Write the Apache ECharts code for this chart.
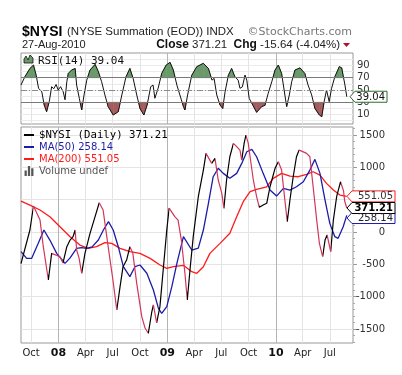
<!DOCTYPE html>
<html><head><meta charset="utf-8">
<script src="https://cdn.jsdelivr.net/npm/echarts@6/dist/echarts.min.js"></script>
<style>html,body{margin:0;padding:0;background:#fff}#c{width:402px;height:375px}</style>
</head><body><div id="c"></div><script>
// ---- data ----
const priceDates = ['2007-08-28','2007-09-27','2007-10-09','2007-10-31','2007-11-11','2007-11-28','2007-12-09','2007-12-20','2008-01-06','2008-01-16','2008-01-29','2008-02-09','2008-02-19','2008-02-26','2008-03-02','2008-03-10','2008-03-19','2008-03-30','2008-04-16','2008-05-03','2008-05-17','2008-05-30','2008-06-16','2008-07-02','2008-07-15','2008-07-26','2008-08-05','2008-08-17','2008-08-28','2008-09-07','2008-09-20','2008-10-07','2008-10-18','2008-10-29','2008-11-09','2008-11-15','2008-11-26','2008-12-07','2008-12-17','2008-12-30','2009-01-07','2009-01-26','2009-02-06','2009-02-17','2009-03-01','2009-03-09','2009-03-18','2009-03-29','2009-04-15','2009-05-02','2009-05-11','2009-05-30','2009-06-10','2009-06-21','2009-07-03','2009-07-10','2009-07-19','2009-07-30','2009-08-11','2009-08-22','2009-09-02','2009-09-08','2009-09-16','2009-09-22','2009-09-30','2009-10-06','2009-10-17','2009-10-28','2009-11-06','2009-11-19','2009-12-01','2009-12-12','2009-12-29','2010-01-09','2010-01-20','2010-01-31','2010-02-08','2010-02-17','2010-02-28','2010-03-11','2010-03-20','2010-04-03','2010-04-14','2010-04-25','2010-05-06','2010-05-18','2010-05-27','2010-06-07','2010-06-15','2010-06-22','2010-07-04','2010-07-13','2010-07-24','2010-08-06','2010-08-16','2010-08-20','2010-08-26','2010-08-27'];
const priceValues = [-490,31,402,185,-227,-742,-330,-350,-383,-480,-227,-124,-72,31,-278,-400,-638,-330,-20,237,453,340,-227,-742,-1206,-845,-536,-433,-227,-330,-793,-1309,-1484,-1566,-1252,-1128,-1406,-1154,-638,31,370,237,185,-124,-638,-1051,-587,-72,546,958,1216,1061,1139,804,598,366,804,1164,1371,1320,1267,1113,1371,1499,1371,1164,804,546,382,417,444,700,985,1087,958,495,159,495,855,1164,1267,1240,1216,1164,700,185,-175,-382,-124,-46,-304,185,546,777,640,480,386.85,371.21];

const ma50Dates = ['2007-08-28','2007-09-16','2007-10-03','2007-10-25','2007-11-13','2007-12-03','2007-12-26','2008-01-23','2008-02-09','2008-03-02','2008-03-19','2008-04-05','2008-04-23','2008-05-14','2008-05-31','2008-06-17','2008-07-03','2008-07-20','2008-08-06','2008-08-28','2008-09-14','2008-10-01','2008-10-24','2008-11-15','2008-12-02','2008-12-13','2008-12-30','2009-01-16','2009-02-02','2009-02-24','2009-03-24','2009-04-15','2009-05-02','2009-05-19','2009-06-04','2009-06-21','2009-07-08','2009-07-30','2009-08-22','2009-09-08','2009-09-25','2009-10-12','2009-10-28','2009-11-19','2009-12-12','2010-01-03','2010-01-26','2010-02-17','2010-03-11','2010-04-03','2010-04-25','2010-05-12','2010-05-29','2010-06-15','2010-07-01','2010-07-18','2010-07-29','2010-08-15','2010-08-27'];
const ma50Values = [-304,-407,-407,-175,31,-124,-330,-484,-400,-252,-240,-252,-230,-124,31,160,31,-227,-536,-690,-536,-510,-638,-896,-1180,-1257,-1154,-845,-484,-72,-278,-250,31,444,855,985,907,830,907,1061,1241,1278,1164,907,649,556,675,649,700,777,958,1123,907,495,134,-72,-98,82,258.14];

const ma200Dates = ['2007-08-28','2007-09-27','2007-10-31','2007-12-03','2008-01-06','2008-02-09','2008-03-13','2008-04-10','2008-05-08','2008-06-05','2008-06-28','2008-07-26','2008-08-28','2008-10-01','2008-11-04','2008-12-07','2008-12-30','2009-01-21','2009-02-24','2009-03-24','2009-04-10','2009-05-02','2009-05-24','2009-06-27','2009-07-30','2009-08-22','2009-09-13','2009-10-06','2009-10-28','2009-12-01','2009-12-23','2010-01-20','2010-02-17','2010-03-17','2010-04-14','2010-05-06','2010-05-29','2010-06-20','2010-07-13','2010-08-04','2010-08-27'];
const ma200Values = [479,417,340,237,82,-72,-201,-252,-227,-165,-175,-252,-304,-330,-407,-510,-561,-536,-515,-613,-638,-536,-330,-175,-20,237,469,623,660,700,830,907,865,855,892,932,881,752,649,572,551.05];

const rsiDates = ['2007-08-28','2007-09-10','2007-09-27','2007-10-09','2007-10-18','2007-10-26','2007-11-06','2007-11-14','2007-11-22','2007-12-01','2007-12-09','2007-12-16','2007-12-24','2007-12-31','2008-01-08','2008-01-17','2008-01-23','2008-01-29','2008-02-03','2008-02-14','2008-02-26','2008-03-02','2008-03-11','2008-03-19','2008-03-27','2008-04-05','2008-04-16','2008-05-03','2008-05-14','2008-05-25','2008-06-05','2008-06-16','2008-07-03','2008-07-20','2008-08-01','2008-08-15','2008-08-28','2008-09-08','2008-09-20','2008-10-01','2008-10-14','2008-10-25','2008-11-06','2008-11-14','2008-11-20','2008-12-01','2008-12-13','2008-12-28','2009-01-10','2009-01-21','2009-02-02','2009-02-12','2009-02-24','2009-03-01','2009-03-10','2009-03-24','2009-04-10','2009-05-02','2009-05-19','2009-05-31','2009-06-07','2009-06-16','2009-06-27','2009-07-06','2009-07-14','2009-07-25','2009-08-05','2009-08-16','2009-08-27','2009-09-02','2009-09-10','2009-09-19','2009-09-25','2009-10-03','2009-10-15','2009-10-28','2009-11-14','2009-11-25','2009-12-06','2009-12-18','2009-12-29','2010-01-09','2010-01-20','2010-01-31','2010-02-06','2010-02-15','2010-02-23','2010-03-06','2010-03-23','2010-04-08','2010-04-19','2010-05-01','2010-05-12','2010-05-27','2010-06-04','2010-06-12','2010-06-20','2010-06-29','2010-07-07','2010-07-18','2010-08-02','2010-08-10','2010-08-21','2010-08-27'];
const rsiValues = [58,71.6,85,90.6,74,52.8,47,25.6,14.7,31,55.4,52,59,50,55.4,47,34,63.5,77,82.5,85,58,36.5,17.5,42,66,82.5,91.7,80,63.5,42,23,9.3,14.7,42,71.6,85,69,42,20,9.3,25.6,55.4,58,36.5,53,77,90.6,95,82.5,58,42,23,17.5,42,74,88,93.4,85,66,69,42,25.6,20,47,74,85,71.6,66,52.8,55,74,66,36.5,25.6,13.7,23,25,44.6,63.5,82.5,90.6,77,42,23,42,63.5,82.5,86,77,58,42,20,9.3,6.6,31,50,31,52.8,71.6,88,86,58,39.04];

const tickDates = ['2007-10-01','2008-01-01','2008-04-01','2008-07-01','2008-10-01','2009-01-01','2009-04-01','2009-07-01','2009-10-01','2010-01-01','2010-04-01','2010-07-01'];
const priceTicks = [-1500,-1000,-500,0,500,1000,1500];
const priceMinorTicks = [-1700,-1600,-1400,-1300,-1200,-1100,-900,-800,-700,-600,-400,-300,-200,-100,100,200,300,400,600,700,800,900,1100,1200,1300,1400,1600];
const rsiGridTicks = [0,10,20,30,40,50,60,70,80,90,100];
const rsiLabelTicks = [10,30,50,70,90];
const rsiLevels = [70,30];

// ---- helpers ----
function ts(s){const p=s.split('-');return new Date(+p[0],+p[1]-1,+p[2]).getTime();}
function pairs(d,v){return d.map((s,i)=>[ts(s),v[i]]);}
const MONTHS=['Jan','Feb','Mar','Apr','May','Jun','Jul','Aug','Sep','Oct','Nov','Dec'];
const xMin = ts('2007-08-28'), xMax = ts('2010-09-17');
const tickTs = tickDates.map(ts);

const pricePts = pairs(priceDates, priceValues);
const ma50Pts = pairs(ma50Dates, ma50Values);
const ma200Pts = pairs(ma200Dates, ma200Values);
const rsiPts = pairs(rsiDates, rsiValues);

const UP='#000000', DOWN='#d2355a';
const pieces=[];
for(let i=0;i<pricePts.length-1;i++){
  const c = pricePts[i+1][1]>=pricePts[i][1]?UP:DOWN;
  const last = pieces[pieces.length-1];
  if(last && last.color===c){ last.lt = pricePts[i+1][0]; }
  else pieces.push({gte:pricePts[i][0], lt:pricePts[i+1][0], color:c});
}
pieces[pieces.length-1].lt = xMax+1;

const nameP='$NYSI (Daily) 371.21', nameM50='MA(50) 258.14', nameM200='MA(200) 551.05', nameV='Volume undef';
const BLUE='#1c1ca8', RED='#ff1a1a';
const LIGHT='#e4e4e4', DARK='#b4b4b4';
const GREEN_FILL='#6a9a6a', RED_FILL='#a65c5c';
const lineIcon='path://M0,0H10V2H0Z';

function xAxisBase(grid, labels){
  return {type:'value', gridIndex:grid, min:xMin, max:xMax, scale:true,
    axisLine:{show:false}, axisTick:{show:false, customValues:tickTs},
    splitLine:{show:true, lineStyle:{color:[LIGHT,DARK,LIGHT,LIGHT], width:1}},
    axisLabel: labels ? {show:true, customValues:tickTs, margin:5, fontSize:10, color:'#222', fontFamily:'DejaVu Sans',
      formatter:function(v){const d=new Date(v);const m=d.getMonth(); if(m===0) return '{y|'+String(d.getFullYear()).slice(2)+'}'; return MONTHS[m];},
      rich:{y:{fontWeight:'bold', fontSize:11, fontFamily:'DejaVu Sans', color:'#111'}}} : {show:false}
  };
}

// RSI band fill (above 70 / below 30), drawn per segment in data space via the axes
function rsiBands(params, api){
  const i = params.dataIndex;
  if (i >= rsiPts.length-1) return null;
  const t0=rsiPts[i][0], v0=rsiPts[i][1], t1=rsiPts[i+1][0], v1=rsiPts[i+1][1];
  const children=[];
  function band(level, above, color){
    const f0 = above ? v0-level : level-v0, f1 = above ? v1-level : level-v1;
    if (f0<=0 && f1<=0) return;
    let pts;
    if (f0>0 && f1>0) pts=[[t0,level],[t0,v0],[t1,v1],[t1,level]];
    else { const tc = t0 + (t1-t0)*f0/(f0-f1); pts = f0>0 ? [[t0,level],[t0,v0],[tc,level]] : [[tc,level],[t1,v1],[t1,level]]; }
    children.push({type:'polygon', shape:{points:pts.map(p=>api.coord(p))}, style:{fill:color, stroke:color, lineWidth:0.6}});
  }
  band(rsiLevels[0], true, GREEN_FILL);
  band(rsiLevels[1], false, RED_FILL);
  return {type:'group', children:children};
}

const chart = echarts.init(document.getElementById('c'), null, {renderer:'canvas'});
const option = {
  animation:false,
  backgroundColor:'#fff',
  grid:[
    {left:21, top:53, width:332, height:71, show:true, borderColor:'#999', borderWidth:1, backgroundColor:'transparent'},
    {left:21, top:127, width:332, height:216, show:true, borderColor:'#999', borderWidth:1, backgroundColor:'transparent'}
  ],
  xAxis:[xAxisBase(0,false), xAxisBase(1,true)],
  yAxis:[
    {type:'value', gridIndex:0, position:'right', min:-5.3, max:110.2,
     axisLine:{show:false}, axisTick:{show:false, customValues:rsiGridTicks},
     axisLabel:{customValues:rsiLabelTicks, margin:4, fontSize:10, color:'#333', fontFamily:'DejaVu Sans', formatter:v=>String(v)},
     splitLine:{show:true, lineStyle:{color:'#ebebeb'}}},
    {type:'value', gridIndex:1, position:'right', min:-1716, max:1624,
     axisLine:{show:false}, axisTick:{show:true, length:4, customValues:priceTicks, lineStyle:{color:'#999'}},
     axisLabel:{customValues:priceTicks, align:'right', margin:32, fontSize:10, color:'#333', fontFamily:'DejaVu Sans', formatter:v=>String(v)},
     splitLine:{show:true, lineStyle:{color:LIGHT}}},
    {type:'value', gridIndex:1, position:'right', min:-1716, max:1624,
     axisLine:{show:false}, axisTick:{show:true, length:2, customValues:priceMinorTicks, lineStyle:{color:'#aaa'}},
     axisLabel:{show:false}, splitLine:{show:false}}
  ],
  legend:{left:24, top:129, orient:'vertical', itemGap:0, itemWidth:10, itemHeight:10, selectedMode:false, padding:0,
    data:[
      {name:nameP, icon:lineIcon, itemStyle:{color:'#000', borderWidth:0}, textStyle:{color:'#000', fontFamily:'DejaVu Sans Mono', fontSize:10.7, lineHeight:12}},
      {name:nameM50, icon:lineIcon, itemStyle:{color:BLUE, borderWidth:0}, textStyle:{color:BLUE, fontFamily:'DejaVu Sans', fontSize:10, lineHeight:12}},
      {name:nameM200, icon:lineIcon, itemStyle:{color:RED, borderWidth:0}, textStyle:{color:RED, fontFamily:'DejaVu Sans', fontSize:10, lineHeight:12}},
      {name:nameV, icon:'path://M0,9V4H2V9ZM3,9V0H5V9ZM6,9V2H8V9Z', itemStyle:{color:'#555', borderWidth:0}, textStyle:{color:'#555', fontFamily:'DejaVu Sans', fontSize:10, lineHeight:12}}
    ]},
  visualMap:{type:'piecewise', show:false, seriesIndex:4, dimension:0, pieces:pieces, outOfRange:{color:UP}},
  series:[
    {type:'custom', xAxisIndex:0, yAxisIndex:0, data:rsiPts, encode:{x:0, y:1}, renderItem:rsiBands, silent:true, z:1, clip:true},
    {type:'line', name:'RSI', xAxisIndex:0, yAxisIndex:0, data:rsiPts, showSymbol:false, lineStyle:{color:'#111', width:1}, itemStyle:{color:'#111'}, z:3,
     markLine:{silent:true, symbol:'none', label:{show:false}, animation:false,
       data:[{yAxis:70, lineStyle:{color:'#7a7a7a', type:'solid', width:1}},
             {yAxis:30, lineStyle:{color:'#7a7a7a', type:'solid', width:1}},
             {yAxis:50, lineStyle:{color:'#8a8a8a', type:[6,2,1,2], width:1}}]}},
    {type:'line', name:nameM200, xAxisIndex:1, yAxisIndex:1, data:ma200Pts, showSymbol:false, lineStyle:{color:RED, width:1.3}, itemStyle:{color:RED}, z:3},
    {type:'line', name:nameM50, xAxisIndex:1, yAxisIndex:1, data:ma50Pts, showSymbol:false, lineStyle:{color:BLUE, width:1.3}, itemStyle:{color:BLUE}, z:3},
    {type:'line', name:nameP, xAxisIndex:1, yAxisIndex:1, data:pricePts, showSymbol:false, lineStyle:{width:1.2}, itemStyle:{color:'#000'}, z:4},
    {type:'bar', name:nameV, xAxisIndex:1, yAxisIndex:1, data:[], itemStyle:{color:'#555'}}
  ]
};
chart.setOption(option);

const F='"Liberation Sans", Arial, sans-serif';
const g=[
  {type:'text', x:22, y:32, style:{text:'$NYSI', font:'bold 14px '+F, fill:'#000', verticalAlign:'middle'}},
  {type:'text', x:67, y:32, style:{text:'(NYSE Summation (EOD)) INDX', font:'11.5px '+F, fill:'#222', verticalAlign:'middle'}},
  {type:'text', x:352, y:32, style:{text:'\u00A9StockCharts.com', font:'11px "DejaVu Sans", sans-serif', fill:'#777', align:'right', verticalAlign:'middle'}},
  {type:'text', x:22, y:45, style:{text:'27-Aug-2010', font:'11px '+F, fill:'#222', verticalAlign:'middle'}},
  {type:'text', x:340, y:45, style:{text:'{b|Close} 371.21  {b|Chg} -15.64 (-4.04%)', font:'11.5px '+F, fill:'#222', align:'right', verticalAlign:'middle',
     rich:{b:{font:'bold 12px '+F, fill:'#111'}}}},
  {type:'polygon', shape:{points:[[343,43],[350,43],[346.5,47]]}, style:{fill:'#b0102a'}},
  {type:'polygon', shape:{points:[[24,63],[24,59],[26,56],[28,60],[30,55],[33,58],[33,63]]}, style:{fill:GREEN_FILL, stroke:'#111', lineWidth:0.8}, z:50},
  {type:'text', x:38, y:61, style:{text:'RSI(14) 39.04', font:'11px "DejaVu Sans Mono", monospace', fill:'#111', verticalAlign:'middle'}, z:50}
];
function tag(x0, yc, w, text, border, color, bold){
  return [
    {type:'polygon', shape:{points:[[x0,yc],[x0+5,yc-5.5],[x0+w,yc-5.5],[x0+w,yc+5.5],[x0+5,yc+5.5]]}, style:{fill:'#fff', stroke:border, lineWidth:1}, z:100},
    {type:'text', x:x0+w-2, y:yc+0.5, style:{text:text, font:(bold?'bold ':'')+'10px "DejaVu Sans", sans-serif', fill:color, align:'right', verticalAlign:'middle'}, z:101}
  ];
}
const lastT = pricePts[pricePts.length-1][0];
const tags = [
  {v:ma200Values[ma200Values.length-1], txt:'551.05', border:RED, color:'#333', bold:false},
  {v:priceValues[priceValues.length-1], txt:'371.21', border:'#000', color:'#000', bold:true},
  {v:ma50Values[ma50Values.length-1], txt:'258.14', border:BLUE, color:'#223', bold:false}
];
tags.forEach(t=>{ t.y = chart.convertToPixel({xAxisIndex:1, yAxisIndex:1}, [lastT, t.v])[1]; });
const sorted = tags.slice().sort((a,b)=>a.y-b.y);
for(let i=1;i<sorted.length;i++){ if(sorted[i].y - sorted[i-1].y < 10) sorted[i].y = sorted[i-1].y + 10; }
[tags[0], tags[2], tags[1]].forEach(t=>{ tag(347, t.y, 48, t.txt, t.border, t.color, t.bold).forEach(e=>g.push(e)); });
const rsiY = chart.convertToPixel({xAxisIndex:0, yAxisIndex:0}, [lastT, rsiValues[rsiValues.length-1]])[1];
tag(350, rsiY, 37, '39.04', '#2a6a2a', '#111', false).forEach(e=>g.push(e));
chart.setOption({graphic:g});
</script></body></html>
